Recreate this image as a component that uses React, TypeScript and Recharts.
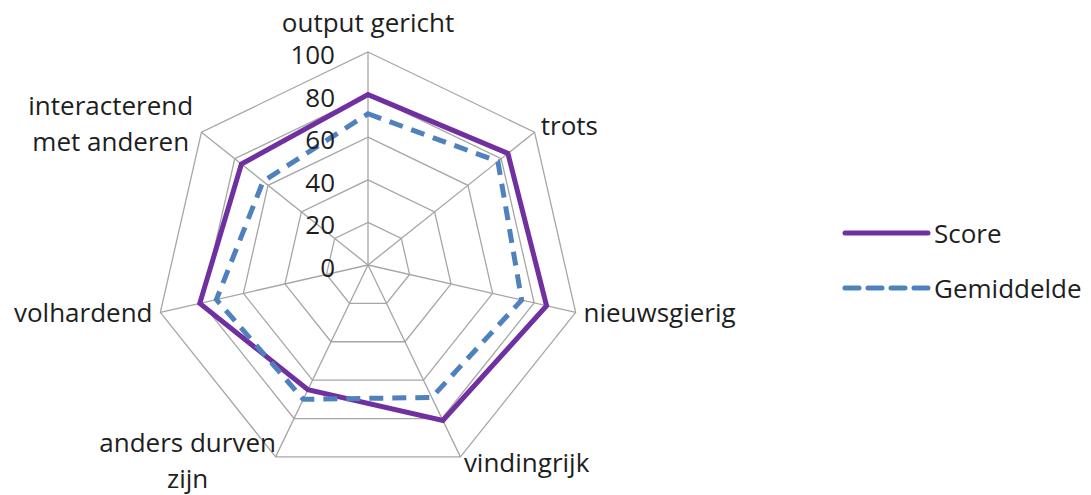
import React from "react";
import {
  RadarChart,
  Radar,
  PolarGrid,
  PolarAngleAxis,
  PolarRadiusAxis,
  Legend,
} from "recharts";

const categories = [
  "output gericht",
  "trots",
  "nieuwsgierig",
  "vindingrijk",
  "anders durven zijn",
  "volhardend",
  "interacterend met anderen",
];
const score = [80, 84, 86, 81, 65, 81, 76];
const gemiddelde = [71, 78, 74, 69, 70, 73, 63];
const radiusDomain: [number, number] = [0, 100];

const data = categories.map((axis, i) => ({
  axis,
  score: score[i],
  gemiddelde: gemiddelde[i],
}));

const FONT = "'Open Sans', sans-serif";
const FS = 26;
const TEXT = "#1e1e1e";
const LINE_H = 36;

// break long category names into two lines (like Excel does)
function wrap(label: string, max = 14): string[] {
  if (label.length <= max) return [label];
  const cut = label.lastIndexOf(" ", max);
  if (cut < 0) return [label];
  return [label.slice(0, cut), label.slice(cut + 1)];
}

function AngleTick(props: any) {
  const { x, y, textAnchor, payload } = props;
  const lines = wrap(String(payload.value));
  const top = textAnchor === "middle" && y < 265;
  const mid = top ? y - 22 : lines.length > 1 ? y - 4 : y - 2;
  const first = mid - ((lines.length - 1) * LINE_H) / 2;
  if (lines.length > 1) {
    // centre the lines on each other, block hangs off the tick point
    const w = Math.max(...lines.map((l) => l.length)) * FS * 0.5;
    const cx = textAnchor === "end" ? x - w / 2 : x + w / 2;
    return (
      <g>
        {lines.map((l, i) => (
          <text
            key={i}
            x={cx}
            y={first + i * LINE_H}
            fontFamily={FONT}
            fontSize={FS}
            fill={TEXT}
            textAnchor="middle"
            dominantBaseline="central"
          >
            {l}
          </text>
        ))}
      </g>
    );
  }
  return (
    <text
      x={x}
      y={mid}
      fontFamily={FONT}
      fontSize={FS}
      fill={TEXT}
      textAnchor={textAnchor}
      dominantBaseline="central"
    >
      {lines[0]}
    </text>
  );
}

function RadiusTick(props: any) {
  const { x, y, payload } = props;
  return (
    <text
      x={x - 33}
      y={y + 2}
      fontFamily={FONT}
      fontSize={FS}
      fill={TEXT}
      textAnchor="end"
      dominantBaseline="central"
    >
      {payload.value}
    </text>
  );
}

function LegendBox() {
  const items = [
    { name: "Score", color: "#7030A0", dash: undefined },
    { name: "Gemiddelde", color: "#4F81BD", dash: "14 9" },
  ];
  return (
    <svg width={250} height={110}>
      {items.map((it, i) => (
        <g key={it.name} transform={`translate(0, ${18 + i * 55})`}>
          <line
            x1={3}
            x2={86}
            y1={0}
            y2={0}
            stroke={it.color}
            strokeWidth={5}
            strokeDasharray={it.dash}
            strokeLinecap="round"
          />
          <text
            x={92}
            y={0}
            fontFamily={FONT}
            fontSize={FS}
            fill={TEXT}
            dominantBaseline="central"
          >
            {it.name}
          </text>
        </g>
      ))}
    </svg>
  );
}

export default function App() {
  return (
    <div
      style={{
        position: "absolute",
        left: 0,
        top: 0,
        width: 1091,
        height: 495,
        background: "#fff",
        fontFamily: FONT,
      }}
    >
      <RadarChart
        width={1091}
        height={495}
        data={data}
        cx={368}
        cy={265}
        outerRadius={213}
        margin={{ top: 0, right: 0, bottom: 0, left: 0 }}
      >
        <PolarGrid gridType="polygon" stroke="#a6a6a6" strokeWidth={1.3} />
        <PolarAngleAxis
          dataKey="axis"
          tick={<AngleTick />}
          tickLine={false}
          axisLine={false}
        />
        <PolarRadiusAxis
          angle={90}
          domain={radiusDomain}
          tickCount={6}
          axisLine={false}
          tickLine={false}
          tick={<RadiusTick />}
        />
        <Radar
          name="Score"
          dataKey="score"
          stroke="#7030A0"
          strokeWidth={5}
          fill="none"
          fillOpacity={0}
          dot={false}
          strokeLinejoin="miter"
          isAnimationActive={false}
        />
        <Radar
          name="Gemiddelde"
          dataKey="gemiddelde"
          stroke="#4F81BD"
          strokeWidth={5}
          strokeDasharray="14 9"
          fill="none"
          fillOpacity={0}
          dot={false}
          isAnimationActive={false}
        />
        <Legend
          content={<LegendBox />}
          wrapperStyle={{ left: 842, top: 215, width: 250 }}
        />
      </RadarChart>
    </div>
  );
}
